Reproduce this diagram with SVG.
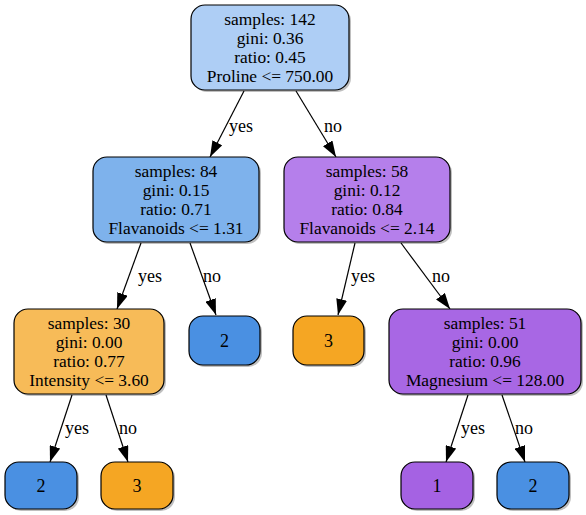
<svg xmlns="http://www.w3.org/2000/svg" width="586" height="515" viewBox="0 0 586 515">
<defs>
<style>
.n rect.b{stroke:#000;stroke-width:1.2}
.sh{fill:#000;opacity:0.25}
text{font-family:"Liberation Serif","Times New Roman",serif;font-size:17.4px;fill:#000;text-anchor:middle}
.e line{stroke:#000;stroke-width:1.2}
.e text{font-size:18px}
.lbl{text-anchor:start}
</style>
<marker id="arr" viewBox="0 0 16 11" refX="16" refY="5.5" markerWidth="16" markerHeight="11" orient="auto" markerUnits="userSpaceOnUse">
<path d="M0,0 L16,5.5 L0,11 z" fill="#000"/>
</marker>
</defs>

<g class="e" id="edges">
<line x1="244" y1="91" x2="210" y2="157" marker-end="url(#arr)"/>
<line x1="296" y1="91" x2="336" y2="157" marker-end="url(#arr)"/>
<line x1="141" y1="243" x2="117" y2="309" marker-end="url(#arr)"/>
<line x1="190" y1="243" x2="216" y2="315" marker-end="url(#arr)"/>
<line x1="355" y1="243" x2="338" y2="315" marker-end="url(#arr)"/>
<line x1="401" y1="243" x2="450" y2="309" marker-end="url(#arr)"/>
<line x1="72" y1="395" x2="50" y2="462" marker-end="url(#arr)"/>
<line x1="106" y1="395" x2="128" y2="462" marker-end="url(#arr)"/>
<line x1="468" y1="395" x2="446" y2="462" marker-end="url(#arr)"/>
<line x1="502" y1="395" x2="525" y2="462" marker-end="url(#arr)"/>
<text class="lbl" x="229" y="132">yes</text>
<text class="lbl" x="324" y="132">no</text>
<text class="lbl" x="138" y="282">yes</text>
<text class="lbl" x="203" y="282">no</text>
<text class="lbl" x="351" y="282">yes</text>
<text class="lbl" x="432" y="282">no</text>
<text class="lbl" x="65" y="434">yes</text>
<text class="lbl" x="119" y="434">no</text>
<text class="lbl" x="461" y="434">yes</text>
<text class="lbl" x="515" y="434">no</text>
</g>

<g class="n" id="n0">
<rect class="sh" x="193" y="7" width="158" height="85" rx="14"/>
<rect class="b" x="191" y="5" width="158" height="85" rx="14" fill="#aecef5"/>
<text x="270" y="24.5">samples: 142</text>
<text x="270" y="43.8">gini: 0.36</text>
<text x="270" y="63.1">ratio: 0.45</text>
<text x="270" y="82.4">Proline &lt;= 750.00</text>
</g>

<g class="n" id="n1">
<rect class="sh" x="95" y="159" width="166" height="85" rx="14"/>
<rect class="b" x="93" y="157" width="166" height="85" rx="14" fill="#7eb2ec"/>
<text x="176" y="176.5">samples: 84</text>
<text x="176" y="195.8">gini: 0.15</text>
<text x="176" y="215.1">ratio: 0.71</text>
<text x="176" y="234.4">Flavanoids &lt;= 1.31</text>
</g>

<g class="n" id="n2">
<rect class="sh" x="286" y="159" width="166" height="85" rx="14"/>
<rect class="b" x="284" y="157" width="166" height="85" rx="14" fill="#b57feb"/>
<text x="367" y="176.5">samples: 58</text>
<text x="367" y="195.8">gini: 0.12</text>
<text x="367" y="215.1">ratio: 0.84</text>
<text x="367" y="234.4">Flavanoids &lt;= 2.14</text>
</g>

<g class="n" id="n3">
<rect class="sh" x="16" y="311" width="150" height="85" rx="14"/>
<rect class="b" x="14" y="309" width="150" height="85" rx="14" fill="#f7bb58"/>
<text x="89" y="328.5">samples: 30</text>
<text x="89" y="347.8">gini: 0.00</text>
<text x="89" y="367.1">ratio: 0.77</text>
<text x="89" y="386.4">Intensity &lt;= 3.60</text>
</g>

<g class="n" id="n4">
<rect class="sh" x="191" y="318" width="71" height="49" rx="14"/>
<rect class="b" x="189" y="316" width="71" height="49" rx="14" fill="#4a90e2"/>
<text x="224.5" y="347" style="font-size:18px">2</text>
</g>

<g class="n" id="n5">
<rect class="sh" x="295" y="318" width="71" height="49" rx="14"/>
<rect class="b" x="293" y="316" width="71" height="49" rx="14" fill="#f5a623"/>
<text x="328.5" y="347" style="font-size:18px">3</text>
</g>

<g class="n" id="n6">
<rect class="sh" x="391" y="311" width="192" height="85" rx="14"/>
<rect class="b" x="389" y="309" width="192" height="85" rx="14" fill="#a867e4"/>
<text x="485" y="328.5">samples: 51</text>
<text x="485" y="347.8">gini: 0.00</text>
<text x="485" y="367.1">ratio: 0.96</text>
<text x="485" y="386.4">Magnesium &lt;= 128.00</text>
</g>

<g class="n" id="n7">
<rect class="sh" x="7" y="464" width="72" height="47" rx="14"/>
<rect class="b" x="5" y="462" width="72" height="47" rx="14" fill="#4a90e2"/>
<text x="41" y="492" style="font-size:18px">2</text>
</g>

<g class="n" id="n8">
<rect class="sh" x="103" y="464" width="72" height="47" rx="14"/>
<rect class="b" x="101" y="462" width="72" height="47" rx="14" fill="#f5a623"/>
<text x="137" y="492" style="font-size:18px">3</text>
</g>

<g class="n" id="n9">
<rect class="sh" x="403" y="464" width="72" height="47" rx="14"/>
<rect class="b" x="401" y="462" width="72" height="47" rx="14" fill="#a562e3"/>
<text x="437" y="492" style="font-size:18px">1</text>
</g>

<g class="n" id="n10">
<rect class="sh" x="499" y="464" width="72" height="47" rx="14"/>
<rect class="b" x="497" y="462" width="72" height="47" rx="14" fill="#4a90e2"/>
<text x="533" y="492" style="font-size:18px">2</text>
</g>
</svg>
